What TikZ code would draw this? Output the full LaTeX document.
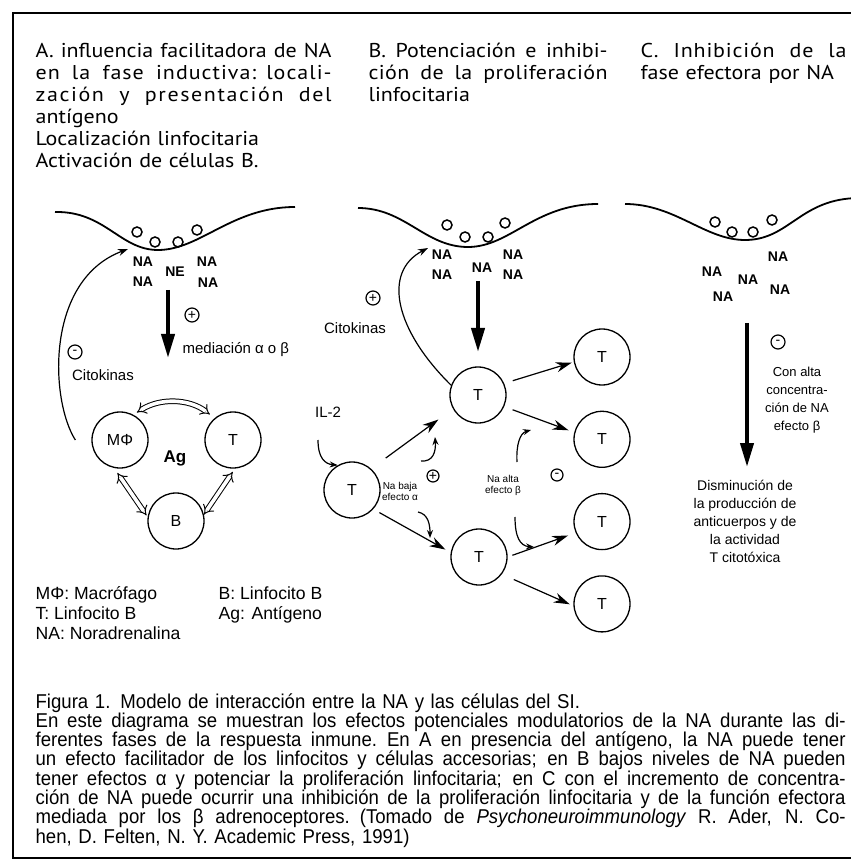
\documentclass[tikz,border=0pt]{standalone}
\usepackage{fontspec}
\setmainfont{Liberation Sans}
\newfontfamily\headfont[FakeStretch=1.1]{PT Sans}
\newfontfamily\capfont[FakeStretch=0.93]{Liberation Sans}
\usetikzlibrary{arrows.meta,positioning,calc}
% one justified line of fixed width
\newcommand{\jline}[2]{\leavevmode\hbox to #1{\spaceskip=0.28em plus 1fil\relax #2}}
\newcommand{\spaced}[2]{{\addfontfeature{LetterSpace=#1}#2}}

\begin{document}
\begin{tikzpicture}[
  x=0.5pt, y=0.5pt,
  line width=0.6pt,
  cell/.style={circle, draw, line width=0.65pt, minimum size=28pt, inner sep=0pt, font=\fontsize{8}{9}\selectfont},
  na/.style={font=\bfseries\fontsize{7}{8}\selectfont, inner sep=0pt},
  ves/.style={circle, draw, line width=0.75pt, minimum size=5pt, inner sep=0pt},
  memb/.style={line width=0.9pt},
  big/.style={-{Triangle[length=12pt,width=6.5pt]}, line width=2pt},
  arr/.style={-{Stealth[length=8pt,width=5pt]}},
  fb/.style={-{Stealth[length=5pt,width=3.5pt]}},
  mod/.style={-{Stealth[length=4pt,width=3pt]}},
  dbl/.style={{Implies}-{Implies}, double, double distance=1.8pt, line width=0.5pt},
  sgn/.style={circle, draw, minimum size=7pt, inner sep=0pt, font=\fontsize{7}{7}\selectfont},
  lbl/.style={font=\fontsize{7.5}{9}\selectfont, inner sep=0pt},
  tiny/.style={font=\fontsize{5}{5.5}\selectfont, align=center, inner sep=0pt},
  head/.style={font=\headfont\fontsize{10}{11}\selectfont, anchor=base west, inner sep=0pt, align=left}
]
\useasboundingbox (0,0) rectangle (850,-865);
% frame
\draw[line width=0.8pt] (880,-13) -- (13,-13) -- (13,-858) -- (880,-858);

% headings
\node[head, text width=148pt] (hA) at (35,-58) {\jline{148pt}{A. influencia facilitadora de NA}\\
  \jline{148pt}{\spaced{5}{en la fase inductiva: locali-}}\\
  \jline{148pt}{\spaced{8}{zación y presentación del}}\\
  antígeno\\ Localización linfocitaria\\ Activación de células B.};
\node[head, text width=119.5pt] (hB) at (368,-58) {\jline{119.5pt}{B. Potenciación e inhibi-}\\
  \jline{119.5pt}{\spaced{2}{ción de la proliferación}}\\ linfocitaria};
\node[head, text width=103pt] (hC) at (640,-58) {\jline{103pt}{\spaced{4}{C. Inhibición de la}}\\
  fase efectora por NA};

% ---- A: fase inductiva ----
\draw[memb] (55,-212) .. controls (105,-211) and (120,-250) .. (158,-250)
  .. controls (200,-250) and (232,-207) .. (295,-207);
\foreach \x/\y in {137/232,155/242,178/242,197/230}
  \node[ves] at (\x,-\y) {};
\foreach \x/\y/\t in {143/262/NA,143/282/NA,175/272/NE,207/262/NA,208/283/NA}
  \node[na] at (\x,-\y) {\t};
\coordinate (aTop) at (168,-290);
\coordinate (aBot) at (168,-358);
\draw[big] (aTop) -- (aBot);
\node[sgn] (plusA) at (192,-315) {+};
\node[lbl, anchor=west] (medA) at (182,-350) {mediación α o β};
\node[sgn] (minA) at (75,-352) {-};
\node[lbl] (citA) at (103,-375) {Citokinas};

\node[cell] (mphi) at (120,-440) {MΦ};
\node[cell] (tA) at (233,-440) {T};
\node[cell] (bA) at (176,-521) {B};
\node[font=\bfseries\fontsize{8.5}{9}\selectfont] (ag) at (175,-458) {Ag};

\draw[dbl, shorten <=2pt, shorten >=3pt] (mphi.62) to[bend left=35] (tA.130);
\draw[dbl, shorten <=3pt, shorten >=1pt] (mphi.258) -- (bA.172);
\draw[dbl, shorten <=2pt] (tA.274) -- (bA.13);

\coordinate (memA) at (128,-249);
\draw[fb] ([xshift=-8pt]mphi.west) .. controls (50,-400) and (45,-280) .. (memA);

% legend
\node[lbl, font=\fontsize{8.8}{10}\selectfont, anchor=base west, align=left] (legL) at (35,-639)
  {MΦ: Macrófago\\ T: Linfocito B\\ NA: Noradrenalina};
\node[lbl, font=\fontsize{8.8}{10}\selectfont, anchor=base west, align=left] (legR) at (218,-619)
  {B: Linfocito B\\ Ag: Antígeno};

% ---- B: proliferacion ----
\draw[memb] (358,-208) .. controls (405,-208) and (425,-247) .. (468,-247)
  .. controls (510,-247) and (535,-204) .. (598,-204);
\foreach \x/\y in {447/225,465/237,488/237,505/223}
  \node[ves] at (\x,-\y) {};
\foreach \x/\y in {442/255,442/275,482/268,513/255,513/275}
  \node[na] at (\x,-\y) {NA};
\coordinate (bTop) at (478,-281);
\coordinate (bBot) at (478,-352);
\draw[big] (bTop) -- (bBot);

\node[cell] (tl) at (352,-490) {T};
\node[cell] (t1) at (478,-395) {T};
\node[cell] (t2) at (479,-557) {T};
\node[cell] (r1) at (602,-357) {T};
\node[cell, below=12.5pt of r1] (r2) {T};
\node[cell, below=12.5pt of r2] (r3) {T};
\node[cell, below=12.5pt of r3] (r4) {T};

\draw[arr, shorten <=9pt, shorten >=9pt] (tl.48) -- (t1.209);
\draw[arr, shorten <=3.5pt, shorten >=3pt] (tl.318) -- (t2.171);
\draw[arr, shorten <=4.5pt, shorten >=1pt] (t1.24) -- (r1.190);
\draw[arr, shorten <=4.5pt, shorten >=3pt] (t1.336) -- (r2.166);
\draw[arr, shorten <=2.5pt, shorten >=4pt] (t2.0) -- (r3.203);
\draw[arr, shorten <=6.5pt, shorten >=2pt] (t2.323) -- (r4.184);

\coordinate (memB) at (428,-248);
\draw[fb] (t1.160) .. controls (395,-330) and (382,-272) .. (memB);
\node[sgn] (plusB) at (373,-298) {+};
\node[lbl] (citB) at (355,-328) {Citokinas};

\node[lbl] (il2) at (328,-412) {IL-2};
\coordinate (ilS) at (318,-440);
\draw[mod] (ilS) .. controls (318,-458) and (325,-464) .. (tl.120);

% hooks: baja / alta concentracion
\coordinate (h1s) at (421,-461); \coordinate (h1e) at (435,-437);
\draw[mod] (h1s) .. controls (433,-462) and (436,-452) .. (h1e);
\coordinate (h2s) at (418,-512); \coordinate (h2e) at (430,-538);
\draw[mod] (h2s) .. controls (428,-514) and (430,-524) .. (h2e);
\coordinate (h3s) at (517,-462); \coordinate (h3e) at (531,-430);
\draw[mod] (h3s) .. controls (516,-445) and (520,-433) .. (h3e);
\coordinate (h4s) at (515,-517); \coordinate (h4e) at (534,-547);
\draw[mod] (h4s) .. controls (515,-537) and (520,-546) .. (h4e);

\node[tiny] (nabaja) at (400,-491) {Na baja\\efecto α};
\node[sgn, minimum size=6pt] (plusB2) at (433,-476) {+};
\node[tiny] (naalta) at (503,-485) {Na alta\\efecto β};
\node[sgn, minimum size=6pt] (minB) at (557,-475) {-};

% ---- C: fase efectora ----
\draw[memb] (625,-204) .. controls (675,-204) and (705,-240) .. (745,-240)
  .. controls (790,-240) and (800,-198) .. (860,-198);
\foreach \x/\y in {715/222,732/232,753/232,772/220}
  \node[ves] at (\x,-\y) {};
\foreach \x/\y in {778/257,712/272,748/280,780/290,723/297}
  \node[na] at (\x,-\y) {NA};
\coordinate (cTop) at (747,-323);
\coordinate (cBot) at (747,-467);
\draw[big] (cTop) -- (cBot);
\node[sgn] (minC) at (778,-342) {-};
\node[lbl, font=\fontsize{6.5}{9}\selectfont, align=center] (altaC) at (797,-400)
  {Con alta\\concentra-\\ción de NA\\efecto β};
\node[lbl, font=\fontsize{7}{9}\selectfont, align=center] (dismC) at (745,-521)
  {Disminución de\\la producción de\\anticuerpos y de\\la actividad\\T citotóxica};

% caption
\node[anchor=base west, text width=405pt, align=left, inner sep=0pt,
  font=\capfont\fontsize{10}{9.65}\selectfont] (cap) at (35,-708)
  {Figura 1. Modelo de interacción entre la NA y las células del SI.\\
  \jline{405pt}{En este diagrama se muestran los efectos potenciales modulatorios de la NA durante las di-}\\
  \jline{405pt}{ferentes fases de la respuesta inmune. En A en presencia del antígeno, la NA puede tener}\\
  \jline{405pt}{un efecto facilitador de los linfocitos y células accesorias; en B bajos niveles de NA pueden}\\
  \jline{405pt}{tener efectos α y potenciar la proliferación linfocitaria; en C con el incremento de concentra-}\\
  \jline{405pt}{ción de NA puede ocurrir una inhibición de la proliferación linfocitaria y de la función efectora}\\
  \jline{405pt}{mediada por los β adrenoceptores. (Tomado de \textit{Psychoneuroimmunology} R. Ader, N. Co-}\\
  hen, D. Felten, N. Y. Academic Press, 1991)};
\end{tikzpicture}
\end{document}
